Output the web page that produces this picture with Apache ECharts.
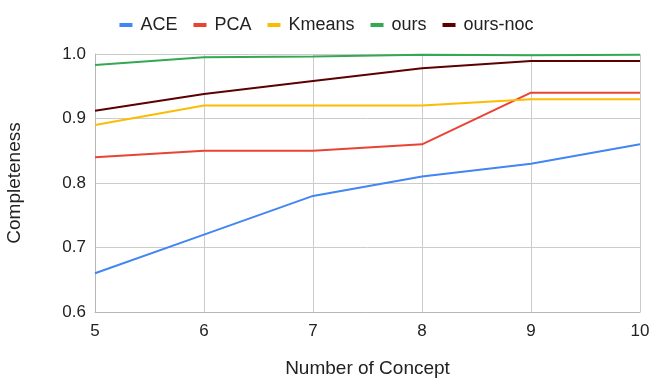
<!DOCTYPE html>
<html>
<head>
<meta charset="utf-8">
<script src="https://cdn.jsdelivr.net/npm/echarts@6/dist/echarts.min.js"></script>
<style>
  html, body { margin: 0; padding: 0; background: #fff; }
  #chart { width: 653px; height: 388px; }
</style>
</head>
<body>
<div id="chart"></div>
<script>
  // number of concepts (x)
  var concepts = [5, 6, 7, 8, 9, 10];
  var ace = [0.66, 0.72, 0.78, 0.81, 0.83, 0.86];
  var pca = [0.84, 0.85, 0.85, 0.86, 0.94, 0.94];
  var kmeans = [0.89, 0.92, 0.92, 0.92, 0.93, 0.93];
  var ours = [0.983, 0.995, 0.996, 0.999, 0.998, 0.999];
  var oursNoc = [0.912, 0.938, 0.958, 0.978, 0.989, 0.989];

  var names = ['ACE', 'PCA', 'Kmeans', 'ours', 'ours-noc'];
  var colors = ['#4285f4', '#ea4335', '#fbbc04', '#34a853', '#5c0000'];
  var values = [ace, pca, kmeans, ours, oursNoc];

  var myChart = echarts.init(document.getElementById('chart'));
  var series = names.map(function (n, i) {
    return {
      name: n,
      type: 'line',
      symbol: 'none',
      lineStyle: { width: 2, color: colors[i] },
      itemStyle: { color: colors[i] },
      data: concepts.map(function (c, j) { return [c, values[i][j]]; })
    };
  });

  var option = {
    animation: false,
    color: colors,
    textStyle: { fontFamily: '"Liberation Sans", Arial, sans-serif' },
    legend: {
      top: 11,
      left: 'center',
      itemWidth: 13,
      itemHeight: 4,
      itemGap: 16,
      icon: 'rect',
      textStyle: { fontSize: 18, color: '#222', padding: [0, 0, 0, 3] },
      data: names
    },
    grid: { left: 95, right: 13, top: 54, bottom: 76, outerBoundsMode: 'none' },
    xAxis: {
      type: 'value',
      min: 5, max: 10, interval: 1,
      name: 'Number of Concept',
      nameLocation: 'middle',
      nameGap: 47,
      nameTextStyle: { fontSize: 19, color: '#222' },
      axisLine: { show: true, lineStyle: { color: '#b7b7b7' } },
      axisTick: { show: false },
      axisLabel: { fontSize: 17, color: '#222', margin: 11 },
      splitLine: { show: true, lineStyle: { color: '#cccccc' } }
    },
    yAxis: {
      type: 'value',
      min: 0.6, max: 1.0, interval: 0.1,
      name: 'Completeness',
      nameLocation: 'middle',
      nameGap: 71,
      nameTextStyle: { fontSize: 19, color: '#222' },
      axisLine: { show: true, lineStyle: { color: '#b7b7b7' } },
      axisTick: { show: false },
      axisLabel: {
        fontSize: 17, color: '#222', margin: 9,
        formatter: function (v) { return v.toFixed(1); }
      },
      splitLine: { show: true, lineStyle: { color: '#cccccc' } }
    },
    series: series
  };
  myChart.setOption(option);
</script>
</body>
</html>
